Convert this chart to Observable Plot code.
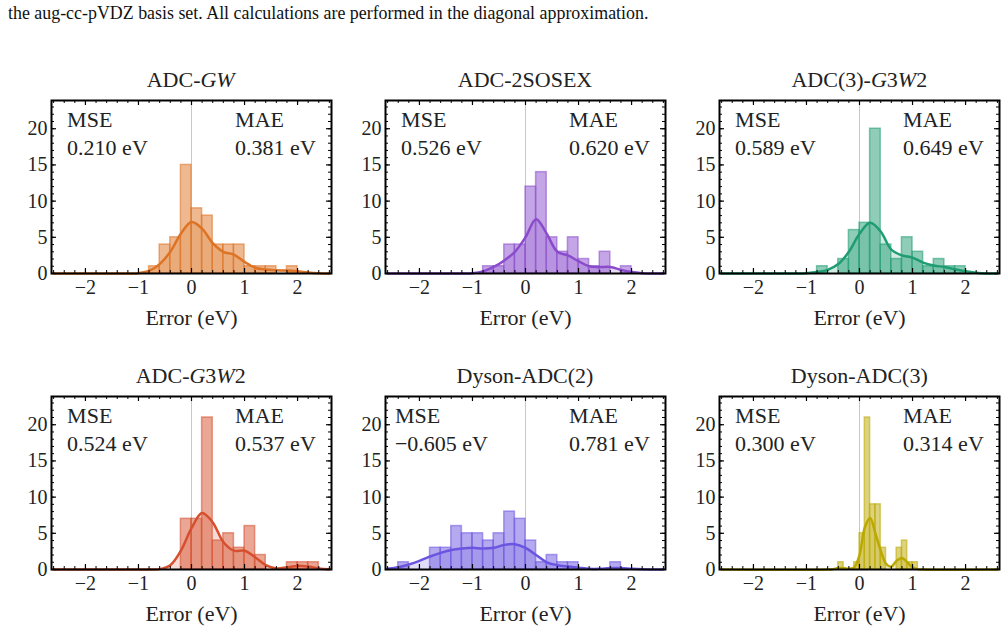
<!DOCTYPE html>
<html>
<head>
<meta charset="utf-8">
<script src="https://cdn.jsdelivr.net/npm/d3@7"></script>
<script src="https://cdn.jsdelivr.net/npm/@observablehq/plot@0.6"></script>
<style>
  body { margin: 0; background: #fff; }
  #fig { position: relative; width: 1006px; height: 633px; overflow: hidden; font-family: "Liberation Serif", "Times New Roman", serif; color: #222; }
  .caption { position: absolute; left: 8px; top: 3px; font-size: 17.9px; white-space: nowrap; color: #111; }
  .title { position: absolute; width: 280px; text-align: center; font-size: 22px; line-height: 22px; white-space: nowrap; }
  .panel { position: absolute; }
</style>
</head>
<body>
<div id="fig">
  <div class="caption">the aug-cc-pVDZ basis set. All calculations are performed in the diagonal approximation.</div>
</div>
<script>
// Method names (HTML titles allow the italic G/W symbols)
const titles = ["ADC-<i>GW</i>", "ADC-2SOSEX", "ADC(3)-<i>G</i>3<i>W</i>2",
                "ADC-<i>G</i>3<i>W</i>2", "Dyson-ADC(2)", "Dyson-ADC(3)"];
const mseValues = ["0.210", "0.526", "0.589", "0.524", "\u22120.605", "0.300"];
const maeValues = ["0.381", "0.620", "0.649", "0.537", "0.781", "0.314"];
const lineColors = ["#dd7324", "#8a4ccc", "#1f9c72", "#d64f2e", "#6b55e0", "#bba800"];

// Histogram bins: left edges, counts and width (eV)
const gwBins = [-0.8, -0.6, -0.4, -0.2, 0.0, 0.2, 0.4, 0.6, 0.8, 1.0, 1.2, 1.4, 1.8];
const gwCounts = [1, 4, 5, 15, 9, 8, 4, 4, 4, 1, 1, 1, 1];
const sosexBins = [-0.8, -0.6, -0.4, -0.2, 0.0, 0.2, 0.4, 0.6, 0.8, 1.0, 1.2, 1.4, 1.8];
const sosexCounts = [1, 1, 4, 4, 12, 14, 5, 3, 5, 2, 1, 3, 1];
const adc3g3w2Bins = [-0.8, -0.4, -0.2, 0.0, 0.2, 0.4, 0.6, 0.8, 1.0, 1.2, 1.4, 1.6, 1.8];
const adc3g3w2Counts = [1, 2, 6, 7, 20, 4, 2, 5, 3, 1, 2, 1, 1];
const g3w2Bins = [-0.2, 0.0, 0.2, 0.4, 0.6, 0.8, 1.0, 1.2, 1.8, 2.0, 2.2];
const g3w2Counts = [7, 7, 21, 4, 5, 3, 6, 2, 1, 1, 1];
const dyson2Bins = [-2.4, -1.8, -1.6, -1.4, -1.2, -1.0, -0.8, -0.6, -0.4, -0.2, 0.0, 0.2, 0.4, 0.6, 0.8, 1.6];
const dyson2Counts = [1, 3, 3, 6, 5, 5, 4, 5, 8, 7, 4, 1, 2, 1, 1, 1];
const dyson3Bins = [-0.4, -0.1, 0.0, 0.1, 0.2, 0.3, 0.4, 0.7, 0.8, 0.9, 1.0];
const dyson3Counts = [1, 1, 5, 21, 9, 9, 3, 3, 4, 1, 1];
const binWidths = [0.2, 0.2, 0.2, 0.2, 0.2, 0.1];

// Kernel density curves (scaled to counts)
const gwKdeX = [-2.6, -1.2, -1.0, -0.8, -0.6, -0.4, -0.2, 0.0, 0.2, 0.4, 0.6, 0.8, 1.0, 1.2, 1.4, 1.6, 1.8, 2.0, 2.2, 2.4, 2.6];
const gwKdeY = [0, 0, 0.05, 0.35, 1.3, 3.0, 5.5, 7.1, 6.2, 4.2, 3.0, 2.6, 1.6, 0.8, 0.55, 0.45, 0.4, 0.3, 0.15, 0.05, 0];
const sosexKdeX = [-2.6, -1.2, -1.0, -0.8, -0.6, -0.4, -0.2, 0.0, 0.2, 0.4, 0.6, 0.8, 1.0, 1.2, 1.4, 1.6, 1.8, 2.0, 2.2, 2.4, 2.6];
const sosexKdeY = [0, 0, 0.05, 0.3, 0.9, 1.8, 3.0, 5.0, 7.5, 5.5, 3.0, 2.5, 1.7, 1.0, 0.9, 0.9, 0.5, 0.2, 0.05, 0, 0];
const adc3g3w2KdeX = [-2.6, -1.2, -1.0, -0.8, -0.6, -0.4, -0.2, 0.0, 0.2, 0.4, 0.6, 0.8, 1.0, 1.2, 1.4, 1.6, 1.8, 2.0, 2.2, 2.4, 2.6];
const adc3g3w2KdeY = [0, 0, 0.05, 0.2, 0.5, 1.3, 3.0, 5.5, 7.0, 5.8, 3.3, 2.5, 2.2, 1.5, 1.1, 0.9, 0.6, 0.3, 0.1, 0, 0];
const g3w2KdeX = [-2.6, -0.8, -0.6, -0.4, -0.2, 0.0, 0.2, 0.4, 0.6, 0.8, 1.0, 1.2, 1.4, 1.6, 1.8, 2.0, 2.2, 2.4, 2.6];
const g3w2KdeY = [0, 0, 0.05, 0.6, 2.6, 5.7, 7.8, 6.5, 3.8, 2.6, 2.6, 1.7, 0.6, 0.15, 0.3, 0.5, 0.4, 0.15, 0.05];
const dyson2KdeX = [-2.6, -2.4, -2.2, -2.0, -1.8, -1.6, -1.4, -1.2, -1.0, -0.8, -0.6, -0.4, -0.2, 0.0, 0.2, 0.4, 0.6, 0.8, 1.0, 1.2, 1.4, 1.6, 1.8, 2.0, 2.2, 2.6];
const dyson2KdeY = [0.1, 0.3, 0.7, 1.2, 1.8, 2.3, 2.7, 2.9, 3.0, 2.9, 3.0, 3.4, 3.5, 3.0, 2.0, 1.0, 0.6, 0.4, 0.25, 0.1, 0.1, 0.2, 0.2, 0.1, 0.03, 0];
const dyson3KdeX = [-2.6, -0.6, -0.5, -0.4, -0.3, -0.2, -0.1, 0.0, 0.1, 0.2, 0.3, 0.4, 0.5, 0.6, 0.7, 0.8, 0.9, 1.0, 1.1, 1.2, 2.6];
const dyson3KdeY = [0, 0, 0.05, 0.2, 0.2, 0.1, 0.3, 2.0, 5.8, 7.1, 5.0, 2.6, 0.8, 0.4, 1.2, 1.6, 1.0, 0.3, 0.05, 0, 0];

const xTicks = [-2, -1, 0, 1, 2];
const yTicks = [0, 5, 10, 15, 20];

const panels = [
  {bins: gwBins, counts: gwCounts, kx: gwKdeX, ky: gwKdeY},
  {bins: sosexBins, counts: sosexCounts, kx: sosexKdeX, ky: sosexKdeY},
  {bins: adc3g3w2Bins, counts: adc3g3w2Counts, kx: adc3g3w2KdeX, ky: adc3g3w2KdeY},
  {bins: g3w2Bins, counts: g3w2Counts, kx: g3w2KdeX, ky: g3w2KdeY},
  {bins: dyson2Bins, counts: dyson2Counts, kx: dyson2KdeX, ky: dyson2KdeY},
  {bins: dyson3Bins, counts: dyson3Counts, kx: dyson3KdeX, ky: dyson3KdeY}
];

// Layout of the 3x2 grid of framed panels
const FW = 280, FH = 173;
const ML = 40, MR = 10, MT = 10, MB = 58;
const fig = document.getElementById("fig");
const fmtTick = d => d < 0 ? "\u2212" + (-d) : String(d);

panels.forEach((p, i) => {
  const col = i % 3, row = Math.floor(i / 3);
  const fl = 50.7 + col * 334.3, ft = 100 + row * 296;
  const color = lineColors[i];
  const bars = p.bins.map((b, j) => ({x1: b, x2: +(b + binWidths[i]).toFixed(2), y: p.counts[j]}));
  const kde = p.kx.map((x, j) => ({x, y: p.ky[j]}));
  const minorX = d3.range(-2.6, 2.61, 0.2);
  const minorY = d3.range(0, 24, 1);
  const stats = [{label: "MSE\n" + mseValues[i] + " eV", cx: 0.2 * FW}, {label: "MAE\n" + maeValues[i] + " eV", cx: 0.8 * FW}];

  const chart = Plot.plot({
    width: FW + ML + MR, height: FH + MT + MB,
    marginLeft: ML, marginRight: MR, marginTop: MT, marginBottom: MB,
    style: {fontFamily: "'Liberation Serif', serif", fontSize: "20px", color: "#222", background: "transparent", overflow: "visible"},
    x: {domain: [-2.64, 2.64]},
    y: {domain: [0, 23.9]},
    marks: [
      Plot.ruleX([0], {stroke: "#c8c8c8", strokeWidth: 1}),
      Plot.rectY(bars, {x1: "x1", x2: "x2", y: "y", fill: color, fillOpacity: 0.5, stroke: color, strokeOpacity: 0.55, strokeWidth: 1.5}),
      Plot.areaY(kde, {x: "x", y: "y", curve: "catmull-rom", fill: color, fillOpacity: 0.2}),
      Plot.line(kde, {x: "x", y: "y", curve: "catmull-rom", stroke: color, strokeWidth: 2.5}),
      // inward ticks on all four sides
      Plot.tickX(xTicks, {x: d => d, insetTop: FH - 5, stroke: "#000", strokeWidth: 1.2}),
      Plot.tickX(xTicks, {x: d => d, insetBottom: FH - 5, stroke: "#000", strokeWidth: 1.2}),
      Plot.tickX(minorX, {x: d => d, insetTop: FH - 3, stroke: "#000", strokeWidth: 1}),
      Plot.tickX(minorX, {x: d => d, insetBottom: FH - 3, stroke: "#000", strokeWidth: 1}),
      Plot.tickY(yTicks, {y: d => d, insetRight: FW - 5, stroke: "#000", strokeWidth: 1.2}),
      Plot.tickY(yTicks, {y: d => d, insetLeft: FW - 5, stroke: "#000", strokeWidth: 1.2}),
      Plot.tickY(minorY, {y: d => d, insetRight: FW - 3, stroke: "#000", strokeWidth: 1}),
      Plot.tickY(minorY, {y: d => d, insetLeft: FW - 3, stroke: "#000", strokeWidth: 1}),
      Plot.frame({stroke: "#000", strokeWidth: 2}),
      Plot.axisX({ticks: xTicks, tickFormat: fmtTick, tickSize: 0, tickPadding: 6, label: null, fontSize: 20}),
      Plot.axisY({ticks: yTicks, tickSize: 0, tickPadding: 4, label: null, fontSize: 20}),
      Plot.text(["Error (eV)"], {frameAnchor: "bottom", dy: 51, lineAnchor: "bottom", fontSize: 22}),
      Plot.text(stats, {frameAnchor: "top-left", text: "label", lineAnchor: "top", textAnchor: "start", lineHeight: 1.27, fontSize: 22})
    ]
  });
  chart.classList.add("panel");
  chart.style.left = (fl - ML) + "px";
  chart.style.top = (ft - MT) + "px";
  fig.appendChild(chart);

  // centre each two-line statistics block at 20% / 80% of the frame width
  const statTexts = Array.from(chart.querySelectorAll("text")).filter(t => /^(MSE|MAE)/.test(t.textContent));
  statTexts.forEach((t, j) => {
    const w = t.getBBox().width;
    t.setAttribute("transform", `translate(${ML + stats[j].cx - w / 2},${MT + 7})`);
  });

  const title = document.createElement("div");
  title.className = "title";
  title.innerHTML = titles[i];
  title.style.left = fl + "px";
  title.style.top = (ft - 31.5) + "px";
  fig.appendChild(title);
});
</script>
</body>
</html>
